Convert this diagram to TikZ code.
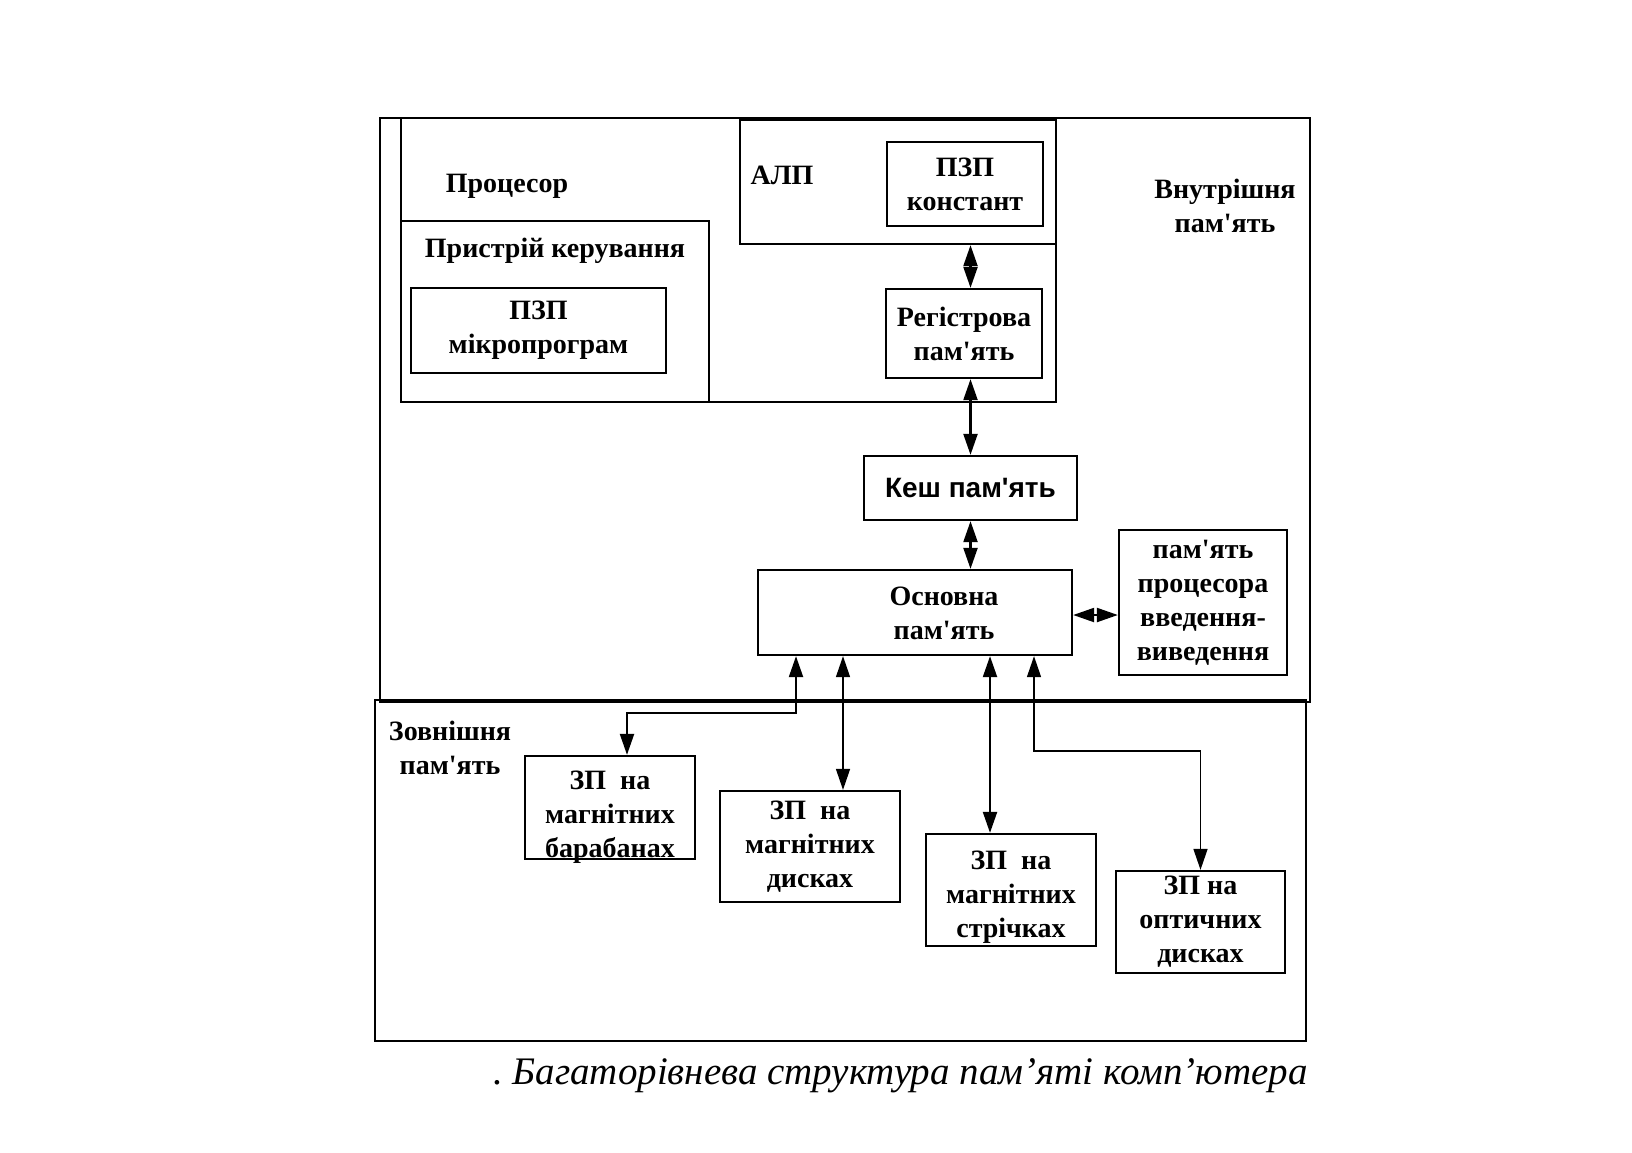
\documentclass[tikz,border=0pt]{standalone}
\usepackage{fontspec}
\setmainfont{Liberation Serif}[Ligatures=TeXOff]
\newfontfamily\sansb{Liberation Sans}[Ligatures=TeXOff]
\usetikzlibrary{arrows.meta}
\newcommand{\lblfont}{\fontsize{28}{34}\selectfont\bfseries}
\begin{document}
\begin{tikzpicture}[x=1pt,y=-1pt,
  box/.style={draw, line width=2.3pt, rectangle, inner sep=0pt, align=center, font=\lblfont},
  bigbox/.style={box, line width=2.9pt},
  lbl/.style={inner sep=0pt, align=center, font=\lblfont},
  tip/.tip={Triangle[length=21pt,width=14pt]},
  dbl/.style={line width=2.2pt, {tip}-{tip}},
  thindbl/.style={line width=1.5pt, {tip}-{tip}}]
\useasboundingbox (0,0) rectangle (1632,1152);
% big containers
\node[bigbox, minimum width=931pt, minimum height=341pt] (ext) at (840.5,870.5) {};
\node[bigbox, minimum width=930pt, minimum height=584pt] (int) at (845,410) {};
\node[bigbox, minimum width=655pt, minimum height=284pt] (proc) at (728.5,260) {};
\node[box, minimum width=308pt, minimum height=181pt] (ctrl) at (555,311.5) {};
\node[box, minimum width=316pt, minimum height=124pt] (alu) at (898,182) {};
% container labels
\node[lbl] (lproc) at (507,186) {Процесор};
\node[lbl] (lalu) at (782,175) {АЛП};
\node[lbl] (lctrl) at (555,251) {Пристрій керування};
\node[lbl] (lint) at (1225,206) {Внутрішня\\пам'ять};
\node[lbl] (lext) at (450,748) {Зовнішня\\пам'ять};
% inner boxes
\node[box, minimum width=255pt, minimum height=85pt] (mikro) at (538.5,330.5) {ПЗП\\мікропрограм};
\node[box, minimum width=156pt, minimum height=84pt] (konst) at (965,184) {ПЗП\\констант};
\node[box, minimum width=156pt, minimum height=89pt] (reg) at (964,333.5) {Регістрова\\пам'ять};
\node[box, minimum width=213pt, minimum height=64pt, font=\fontsize{28}{34}\sansb\bfseries] (kesh) at (970.5,488) {Кеш пам'ять};
\node[box, minimum width=314pt, minimum height=85pt] (osn) at (915,612.5) {};
\node[lbl] (losn) at (944,613) {Основна\\пам'ять};
\node[box, minimum width=168pt, minimum height=145pt] (io) at (1203,602.5) {пам'ять\\процесора\\введення-\\виведення};
% external devices
\node[box, minimum width=170pt, minimum height=103pt] (drum) at (610,807.5) {};
\node[lbl] (ldrum) at (610,817) {ЗП~~на\\магнітних\\барабанах};
\node[box, minimum width=180pt, minimum height=111pt] (disk) at (810,846.5) {ЗП~~на\\магнітних\\дисках};
\node[box, minimum width=170pt, minimum height=112pt] (tape) at (1011,890) {};
\node[lbl] (ltape) at (1011,897) {ЗП~~на\\магнітних\\стрічках};
\node[box, minimum width=169pt, minimum height=102pt] (opt) at (1200.5,922) {ЗП на\\оптичних\\дисках};
% connector helper points
\coordinate (b1) at (796,713);
\coordinate (b2) at (627,713);
\coordinate (d1) at ([xshift=33pt]disk.north);
\coordinate (s1) at ([xshift=-21pt]tape.north);
\coordinate (o1) at (1034,751);
% connectors
\draw[dbl] (alu.south -| kesh.north) -- (reg.north -| kesh.north);
\draw[dbl] (reg.south -| kesh.north) -- (kesh.north);
\draw[dbl] (kesh.south) -- (osn.north -| kesh.south);
\draw[dbl] (osn.east |- 0,615) -- (io.west |- 0,615);
\draw[dbl] (osn.south -| b1) -- (b1) -- (b2) -- (drum.north -| b2);
\draw[thindbl] (d1 |- osn.south) -- (d1);
\draw[dbl] (s1 |- osn.south) -- (s1);
\draw[thindbl] (o1 |- osn.south) -- (o1) -| (opt.north);
% caption
\node[anchor=west, inner sep=0pt, font=\fontsize{39}{46}\selectfont\itshape] (cap) at (493,1076) {.\ Багаторівнева структура пам’яті комп’ютера};
\end{tikzpicture}
\end{document}
